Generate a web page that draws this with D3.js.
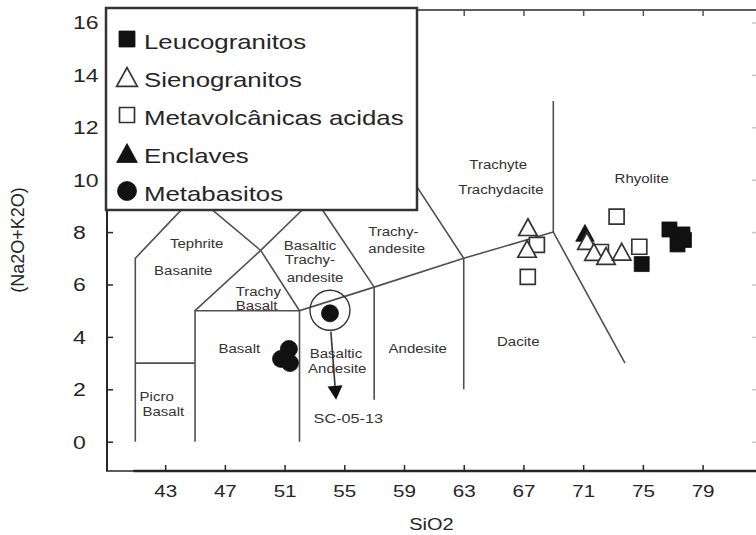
<!DOCTYPE html>
<html>
<head>
<meta charset="utf-8">
<script src="https://cdn.jsdelivr.net/npm/d3@7"></script>
<style>
  body { margin: 0; background: #fff; }
  svg { display: block; font-family: "Liberation Sans", Arial, Helvetica, sans-serif; }
</style>
</head>
<body>
<svg id="chart" width="756" height="535"></svg>
<script>
// ---- axis ticks ----
const xTicks = [43, 47, 51, 55, 59, 63, 67, 71, 75, 79];
const yTicks = [0, 2, 4, 6, 8, 10, 12, 14, 16];

// ---- samples: [SiO2, Na2O+K2O] ----
const leucogranitos  = [[74.92, 6.78], [76.78, 8.10], [77.65, 7.91], [77.32, 7.53], [77.75, 7.70]];
const sienogranitos  = [[67.30, 8.19], [67.24, 7.36], [71.25, 7.66], [71.72, 7.24], [72.53, 7.09], [73.58, 7.25]];
const metavulcanicas = [[67.90, 7.51], [67.29, 6.29], [73.24, 8.59], [74.76, 7.44], [72.19, 7.24]];
const enclaves       = [[71.12, 7.97]];
const metabasitos    = [[51.29, 3.54], [50.76, 3.16], [51.36, 3.00], [54.04, 4.90]];

// highlighted sample and the arrow pointing to its label
const highlightName = "SC-05-13";
const highlightPoint = [54.04, 4.90];
const highlightArrow = [[54.10, 4.20], [54.45, 1.60]];

// ---- TAS field boundaries (Le Bas et al.) ----
const fieldLines = [
  [[41, 0], [41, 7], [45, 9.4]],
  [[41, 3], [45, 3]],
  [[45, 0], [45, 5], [52, 5]],
  [[45, 5], [49.4, 7.3], [53, 9.3]],
  [[45, 9.4], [49.4, 7.3], [52, 5]],
  [[52, 0], [52, 5], [57, 5.9], [63, 7], [69, 8]],
  [[53, 9.3], [57, 5.9], [57, 1.6]],
  [[57.6, 11.7], [63, 7], [63, 2]],
  [[69, 13], [69, 8], [73.8, 3]]
];

// ---- field names: [text, SiO2, alkalis] ----
const fieldLabels = [
  ["Tephrite", 45.11, 7.57],
  ["Basanite", 44.21, 6.53],
  ["Basaltic", 52.70, 7.48],
  ["Trachy-", 52.70, 6.94],
  ["andesite", 53.04, 6.24],
  ["Trachy", 49.24, 5.73],
  ["Basalt", 49.13, 5.18],
  ["Trachy-", 58.28, 8.02],
  ["andesite", 58.51, 7.38],
  ["Basalt", 47.97, 3.53],
  ["Basaltic", 54.44, 3.37],
  ["Andesite", 54.53, 2.80],
  ["Andesite", 59.92, 3.53],
  ["Picro", 42.43, 1.72],
  ["Basalt", 42.88, 1.15],
  ["Trachyte", 65.31, 10.56],
  ["Trachydacite", 65.49, 9.61],
  ["Rhyolite", 74.92, 10.02],
  ["Dacite", 66.65, 3.82]
];
const highlightLabelAt = [55.27, 0.89];

const legendLabels = ["Leucogranitos", "Sienogranitos", "Metavolcânicas acidas", "Enclaves", "Metabasitos"];
const legendShapes = ["square-filled", "triangle-open", "square-open", "triangle-filled", "circle-filled"];

// ---- layout ----
const svg = d3.select("#chart");
const frame = { left: 107, right: 758, top: 10, bottom: 471 };
const x = d3.scaleLinear().domain([41, 79]).range([135.3, 702.6]);
const y = d3.scaleLinear().domain([0, 16]).range([441.7, 22.5]);
const ink = "#262626";
const fieldInk = "#505050";
const WIDE = 1.25;   // lettering is drawn horizontally widened

function wideText(g, str, px, py, size, anchor, sx) {
  return g.append("text")
    .attr("transform", `translate(${px},${py}) scale(${sx || WIDE},1)`)
    .attr("text-anchor", anchor || "middle")
    .attr("font-size", size)
    .attr("fill", ink)
    .text(str);
}

// marker path centred on its bounding box
function markerPath(kind, s) {
  if (kind.startsWith("triangle")) {
    const w = s * 1.15, h = s * 1.05;
    return `M0,${-h / 2}L${w / 2},${h / 2}L${-w / 2},${h / 2}Z`;
  }
  if (kind.startsWith("square")) {
    const a = s / 2;
    return `M${-a},${-a}H${a}V${a}H${-a}Z`;
  }
  const r = s / 2;
  return `M${r},0A${r},${r} 0 1,1 ${-r},0A${r},${r} 0 1,1 ${r},0Z`;
}
function markerStyle(sel, kind) {
  const filled = kind.endsWith("filled");
  sel.attr("fill", filled ? "#111" : "#fff")
     .attr("stroke", filled ? "#111" : "#333")
     .attr("stroke-width", filled ? 0.8 : 1.7)
     .attr("stroke-linejoin", "miter");
}

// ---- TAS field boundaries ----
const line = d3.line().x(d => x(d[0])).y(d => y(d[1]));
svg.append("g").selectAll("path").data(fieldLines).join("path")
  .attr("d", line)
  .attr("fill", "none")
  .attr("stroke", fieldInk)
  .attr("stroke-width", 1.6);

// field names
const gLab = svg.append("g");
fieldLabels.forEach(([t, sx, al]) => {
  wideText(gLab, t, x(sx), y(al), 12, "middle").attr("dy", "0.35em").attr("fill", "#333");
});
wideText(gLab, highlightName, x(highlightLabelAt[0]), y(highlightLabelAt[1]), 13, "middle")
  .attr("dy", "0.35em").attr("fill", "#333");

// ---- frame and axes ----
const gFrame = svg.append("g").attr("stroke", ink).attr("fill", "none");
gFrame.append("line").attr("x1", frame.left - 1).attr("x2", 756).attr("y1", frame.top).attr("y2", frame.top).attr("stroke-width", 1.6);
gFrame.append("line").attr("x1", frame.left).attr("x2", frame.left).attr("y1", frame.top - 1).attr("y2", frame.bottom).attr("stroke-width", 2);
gFrame.append("line").attr("x1", frame.left - 1).attr("x2", 756).attr("y1", frame.bottom).attr("y2", frame.bottom).attr("stroke-width", 1.6);
gFrame.append("line").attr("x1", x(41) - 2).attr("x2", 756).attr("y1", frame.bottom).attr("y2", frame.bottom).attr("stroke-width", 2.4);

const gx = svg.append("g").attr("transform", `translate(0,${frame.bottom})`)
  .call(d3.axisBottom(x).tickValues(xTicks).tickSizeInner(-6).tickSizeOuter(0));
gx.attr("font-family", null).attr("font-size", null);
gx.select(".domain").remove();
gx.selectAll(".tick line").attr("stroke", ink).attr("stroke-width", 1.5);
gx.selectAll(".tick text")
  .attr("y", null).attr("dy", null)
  .attr("transform", `translate(0,26) scale(${WIDE},1)`)
  .attr("font-size", 16.5).attr("fill", ink);

const gy = svg.append("g").attr("transform", `translate(${frame.left},0)`)
  .call(d3.axisLeft(y).tickValues(yTicks).tickSizeInner(-6).tickSizeOuter(0));
gy.attr("font-family", null).attr("font-size", null);
gy.select(".domain").remove();
gy.selectAll(".tick line").attr("stroke", ink).attr("stroke-width", 1.5);
gy.selectAll(".tick text")
  .attr("x", null).attr("dy", "0.36em")
  .attr("text-anchor", "start")
  .attr("transform", `translate(${73 - frame.left},0) scale(1.28,1)`)
  .attr("font-size", 18).attr("fill", ink);

const gTop = svg.append("g").attr("transform", `translate(0,${frame.top})`)
  .call(d3.axisTop(x).tickValues(xTicks).tickSizeInner(-6).tickSizeOuter(0).tickFormat(""));
gTop.select(".domain").remove();
gTop.selectAll(".tick line").attr("stroke", "#555").attr("stroke-width", 1.5);

const gRight = svg.append("g").attr("transform", `translate(${frame.right},0)`)
  .call(d3.axisRight(y).tickValues(yTicks).tickSizeInner(-6).tickSizeOuter(0).tickFormat(""));
gRight.select(".domain").remove();
gRight.selectAll(".tick line").attr("stroke", "#c8c8c8").attr("stroke-width", 1.5);

// axis titles
wideText(svg, "SiO2", (frame.left + 756) / 2, 530, 16, "middle");
svg.append("text")
  .attr("transform", `translate(24,240) rotate(-90)`)
  .attr("text-anchor", "middle")
  .attr("font-size", 18)
  .attr("fill", ink)
  .text("(Na2O+K2O)");

// ---- samples ----
const groups = [
  [metavulcanicas, "square-open", 15],
  [enclaves, "triangle-filled", 16],
  [sienogranitos, "triangle-open", 16],
  [leucogranitos, "square-filled", 15],
  [metabasitos, "circle-filled", 17]
];
const gPts = svg.append("g");
groups.forEach(([data, kind, s]) => {
  gPts.append("g").selectAll("path").data(data).join("path")
    .attr("transform", d => `translate(${x(d[0])},${y(d[1])})`)
    .attr("d", markerPath(kind, s))
    .call(markerStyle, kind);
});

// highlighted sample: ring and arrow
svg.append("circle")
  .attr("cx", x(highlightPoint[0])).attr("cy", y(highlightPoint[1]) - 3)
  .attr("r", 20)
  .attr("fill", "none").attr("stroke", "#333").attr("stroke-width", 1.4);
{
  const [a, b] = highlightArrow;
  const x1 = x(a[0]), y1 = y(a[1]), x2 = x(b[0]), y2 = y(b[1]);
  const len = Math.hypot(x2 - x1, y2 - y1), ux = (x2 - x1) / len, uy = (y2 - y1) / len;
  const head = 14, half = 7.5;
  const bx = x2 - ux * head, by = y2 - uy * head;
  svg.append("line").attr("x1", x1).attr("y1", y1).attr("x2", bx).attr("y2", by)
    .attr("stroke", "#333").attr("stroke-width", 1.6);
  svg.append("path")
    .attr("d", `M${x2},${y2}L${bx - uy * half},${by + ux * half}L${bx + uy * half},${by - ux * half}Z`)
    .attr("fill", "#111");
}

// ---- legend ----
const gLeg = svg.append("g");
gLeg.append("rect")
  .attr("x", 106).attr("y", 8).attr("width", 311).attr("height", 202)
  .attr("fill", "#fff").attr("stroke", "#333").attr("stroke-width", 2.5);
legendLabels.forEach((name, i) => {
  const base = 49 + i * 38;
  const kind = legendShapes[i];
  const s = kind.startsWith("triangle") ? 18 : (kind.startsWith("circle") ? 19 : 16);
  gLeg.append("path")
    .attr("transform", `translate(127,${base - 10})`)
    .attr("d", markerPath(kind, kind === "square-open" ? 15 : s))
    .call(markerStyle, kind);
  wideText(gLeg, name, 144, base, 21, "start", 1.23);
});
</script>
</body>
</html>
